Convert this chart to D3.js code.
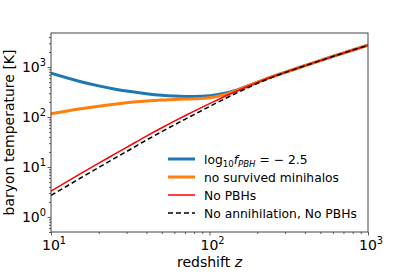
<!DOCTYPE html>
<html>
<head>
<meta charset="utf-8">
<script src="https://cdn.jsdelivr.net/npm/d3@7"></script>
<style>
  body { margin: 0; background: #fff; }
  text { font-family: "DejaVu Sans", sans-serif; fill: #000; }
</style>
</head>
<body>
<div id="chart"></div>
<script>
// data
var redshift = [10, 15, 20, 25, 30, 40, 50, 60, 70, 80, 100, 120, 150, 180, 220, 300, 400, 600, 1000];
var tempPBH = [750, 520, 420, 365, 330, 292, 272, 262, 257, 256, 265, 292, 350, 434, 556, 785, 1064, 1631, 2728];
var tempNoMinihalo = [116, 145, 165, 180, 192, 208, 218, 225, 229, 232, 243, 272, 342, 432, 555, 785, 1064, 1631, 2728];
var tempNoPBH = [3.3, 7.0, 11.9, 17.8, 24.7, 41.5, 61, 82.5, 106, 131, 185, 243, 335, 428, 553, 785, 1064, 1631, 2728];
var tempNoAnn = [2.7, 5.75, 9.8, 14.7, 20.4, 34.5, 51, 69.5, 90, 112, 162, 218, 308, 402, 533, 775, 1060, 1629, 2727];

var xTickVals = [10, 100, 1000];
var yTickVals = [1, 10, 100, 1000];

var svgWidth = 409;
var svgHeight = 273;

var margin = {
    top: 33,
    right: 41,
    bottom: 41,
    left: 51
};

var chartWidth = svgWidth - margin.left - margin.right;
var chartHeight = svgHeight - margin.top - margin.bottom;

var svg = d3.select("#chart")
    .append("svg")
    .attr("width", svgWidth)
    .attr("height", svgHeight);

var chartGroup = svg.append("g")
    .attr("transform", `translate(${margin.left}, ${margin.top})`);

var xScale = d3.scaleLog()
    .domain([10, 1000])
    .range([0, chartWidth]);

var yScale = d3.scaleLog()
    .domain([0.5, 4800])
    .range([chartHeight, 0]);

// clip so curves stay inside the frame
svg.append("defs").append("clipPath")
    .attr("id", "clip")
    .append("rect")
    .attr("width", chartWidth)
    .attr("height", chartHeight);

var series = [
    { values: tempPBH, color: "#1f77b4", width: 3, dash: null },
    { values: tempNoMinihalo, color: "#ff7f0e", width: 3, dash: null },
    { values: tempNoPBH, color: "red", width: 1.5, dash: null },
    { values: tempNoAnn, color: "black", width: 1.5, dash: "5,3" }
];

var line = d3.line()
    .x(d => xScale(d[0]))
    .y(d => yScale(d[1]))
    .curve(d3.curveMonotoneX);

var lineGroup = chartGroup.append("g").attr("clip-path", "url(#clip)");

series.forEach(function (s) {
    lineGroup.append("path")
        .datum(redshift.map((z, i) => [z, s.values[i]]))
        .attr("d", line)
        .attr("fill", "none")
        .attr("stroke", s.color)
        .attr("stroke-width", s.width)
        .attr("stroke-dasharray", s.dash);
});

// minor ticks
var xMinor = [];
var yMinor = [];
[10, 100].forEach(function (dec) {
    for (var k = 2; k < 10; k++) xMinor.push(dec * k);
});
[0.1, 1, 10, 100, 1000].forEach(function (dec) {
    for (var k = 2; k < 10; k++) {
        var v = dec * k;
        if (v >= 0.5 && v <= 4800) yMinor.push(v);
    }
});

chartGroup.append("g")
    .attr("transform", `translate(0, ${chartHeight})`)
    .call(d3.axisBottom(xScale).tickValues(xTickVals).tickSize(3.5).tickFormat(""));

chartGroup.append("g")
    .attr("transform", `translate(0, ${chartHeight})`)
    .call(d3.axisBottom(xScale).tickValues(xMinor).tickSize(2).tickFormat(""));

chartGroup.append("g")
    .call(d3.axisLeft(yScale).tickValues(yTickVals).tickSize(3.5).tickFormat(""));

chartGroup.append("g")
    .call(d3.axisLeft(yScale).tickValues(yMinor).tickSize(2).tickFormat(""));

chartGroup.selectAll(".tick line").attr("stroke", "#333").attr("stroke-width", 0.8);
chartGroup.selectAll(".domain").remove();

// frame
chartGroup.append("rect")
    .attr("width", chartWidth)
    .attr("height", chartHeight)
    .attr("fill", "none")
    .attr("stroke", "#444")
    .attr("stroke-width", 1);

// power-of-ten tick labels
function powLabel(sel, v) {
    var e = Math.round(Math.log10(v));
    sel.append("tspan").text("10");
    sel.append("tspan").attr("dy", -6).attr("font-size", 9.8).text(e);
}

xTickVals.forEach(function (v) {
    var t = chartGroup.append("text")
        .attr("x", xScale(v) + 3)
        .attr("y", chartHeight + 18)
        .attr("text-anchor", "middle")
        .attr("font-size", 14);
    powLabel(t, v);
});

yTickVals.forEach(function (v) {
    var t = chartGroup.append("text")
        .attr("x", -5)
        .attr("y", yScale(v) + 5)
        .attr("text-anchor", "end")
        .attr("font-size", 14);
    powLabel(t, v);
});

// axis labels
svg.append("text")
    .attr("x", margin.left + chartWidth / 2)
    .attr("y", 267)
    .attr("text-anchor", "middle")
    .attr("font-size", 14)
    .text("redshift ")
    .append("tspan")
    .attr("font-style", "italic")
    .text("z");

svg.append("text")
    .attr("transform", `translate(14, ${margin.top + chartHeight / 2}) rotate(-90)`)
    .attr("text-anchor", "middle")
    .attr("font-size", 14)
    .text("baryon temperature [K]");

// legend
var legend = svg.append("g").attr("transform", "translate(168, 159)");
var rowGap = 18;
var fs = 12.3;

series.forEach(function (s, i) {
    legend.append("line")
        .attr("x1", 0)
        .attr("x2", 27)
        .attr("y1", i * rowGap)
        .attr("y2", i * rowGap)
        .attr("stroke", s.color)
        .attr("stroke-width", s.width)
        .attr("stroke-dasharray", s.dash);
});

var l0 = legend.append("text").attr("x", 36).attr("y", 4.5).attr("font-size", fs);
l0.append("tspan").text("log");
l0.append("tspan").attr("dy", 3).attr("font-size", 8.6).text("10");
l0.append("tspan").attr("dy", -3).attr("font-style", "italic").text("f");
l0.append("tspan").attr("dy", 3).attr("font-size", 8.6).attr("font-style", "italic").text("PBH");
l0.append("tspan").attr("dy", -3).text(" = \u2212 2.5");

legend.append("text").attr("x", 36).attr("y", rowGap + 4.5).attr("font-size", fs).text("no survived minihalos");
legend.append("text").attr("x", 36).attr("y", rowGap * 2 + 4.5).attr("font-size", fs).text("No PBHs");
legend.append("text").attr("x", 36).attr("y", rowGap * 3 + 4.5).attr("font-size", fs).text("No annihilation, No PBHs");
</script>
</body>
</html>
